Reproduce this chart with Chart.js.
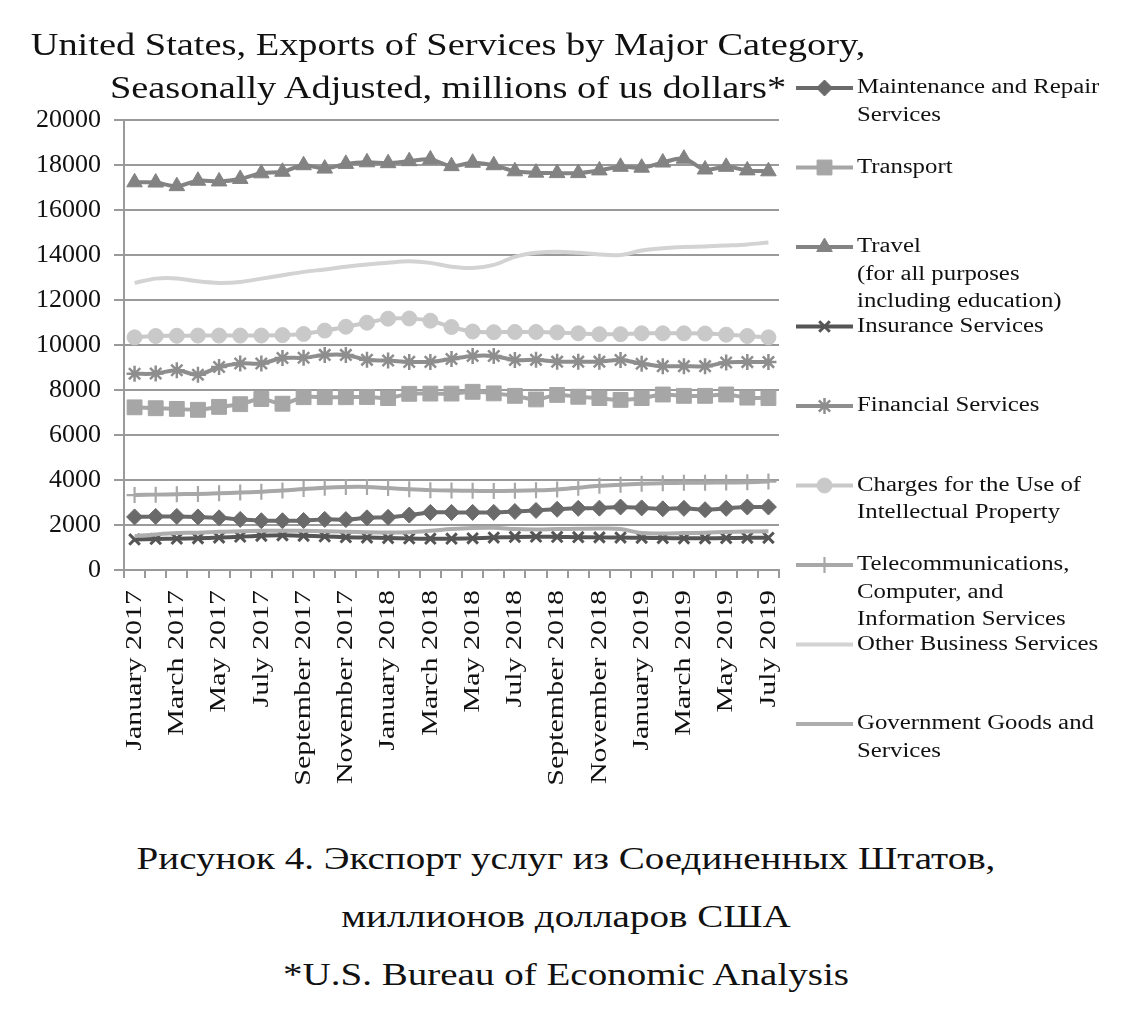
<!DOCTYPE html>
<html lang="en">
<head>
  <meta charset="UTF-8" />
  <title>US Exports of Services</title>
  <script src="https://cdn.jsdelivr.net/npm/chart.js"></script>
  <style>
    body {
      margin: 0;
      background: #ffffff;
      font-family: 'Liberation Serif', 'Times New Roman', serif;
      color: #111;
    }
    .page {
      position: relative;
      width: 1148px;
      height: 1018px;
      overflow: hidden;
    }
    .chart-box {
      position: absolute;
      left: 0;
      top: 0;
      width: 1148px;
      height: 800px;
    }
    .title {
      position: absolute;
      left: 0;
      top: 23px;
      width: 896px;
      text-align: center;
      font-size: 32px;
      line-height: 43px;
      transform: scaleX(1.2);
      transform-origin: 448px 0;
    }
    .caption {
      position: absolute;
      left: 0;
      top: 829px;
      width: 1132px;
      text-align: center;
      font-size: 32px;
      line-height: 58px;
      transform: scaleX(1.22);
      transform-origin: 566px 0;
    }
  </style>
</head>
<body>
  <div class="page">
    <div class="chart-box"><canvas id="chart" width="1148" height="800"></canvas></div>
    <div class="title">United States, Exports of Services by Major Category,<br>Seasonally Adjusted, millions of us dollars*</div>
    <div class="caption">Рисунок 4. Экспорт услуг из Соединенных Штатов,<br>миллионов долларов США<br>*U.S. Bureau of Economic Analysis</div>
  </div>

  <script>
    // months Jan 2017 .. Jul 2019
    const months = [
      'January 2017', 'February 2017', 'March 2017', 'April 2017', 'May 2017', 'June 2017',
      'July 2017', 'August 2017', 'September 2017', 'October 2017', 'November 2017', 'December 2017',
      'January 2018', 'February 2018', 'March 2018', 'April 2018', 'May 2018', 'June 2018',
      'July 2018', 'August 2018', 'September 2018', 'October 2018', 'November 2018', 'December 2018',
      'January 2019', 'February 2019', 'March 2019', 'April 2019', 'May 2019', 'June 2019', 'July 2019'
    ];

    const yTicks = [0, 2000, 4000, 6000, 8000, 10000, 12000, 14000, 16000, 18000, 20000];

    const maintenance = [2360, 2380, 2380, 2360, 2320, 2250, 2190, 2190, 2200, 2250, 2240, 2320,
      2340, 2440, 2560, 2560, 2560, 2560, 2600, 2650, 2700, 2740, 2750, 2800, 2760, 2720, 2740,
      2680, 2740, 2800, 2800];
    const transport = [7230, 7190, 7160, 7120, 7250, 7370, 7600, 7390, 7680, 7680, 7680, 7690,
      7640, 7830, 7840, 7840, 7920, 7850, 7740, 7580, 7780, 7700, 7640, 7560, 7640, 7800,
      7740, 7740, 7800, 7660, 7640];
    const travel = [17230, 17220, 17060, 17300, 17270, 17380, 17630, 17700, 17990, 17840, 18050, 18120,
      18080, 18170, 18250, 17950, 18100, 17990, 17720, 17660, 17640, 17640, 17760, 17920, 17880,
      18110, 18280, 17800, 17920, 17760, 17720];
    const insurance = [1360, 1380, 1390, 1410, 1440, 1480, 1520, 1540, 1520, 1490, 1460, 1440,
      1420, 1400, 1390, 1390, 1410, 1440, 1470, 1480, 1470, 1460, 1450, 1440, 1430, 1420,
      1410, 1410, 1420, 1430, 1430];
    const financial = [8720, 8730, 8880, 8680, 9020, 9180, 9180, 9420, 9430, 9560, 9560, 9340,
      9310, 9250, 9250, 9380, 9510, 9510, 9330, 9340, 9260, 9260, 9260, 9330, 9170, 9060,
      9060, 9060, 9220, 9240, 9240];
    const intellectual = [10340, 10400, 10410, 10420, 10420, 10420, 10420, 10440, 10490, 10640, 10810, 10990,
      11170, 11180, 11080, 10800, 10600, 10570, 10580, 10580, 10560, 10520, 10480, 10480,
      10520, 10520, 10520, 10510, 10460, 10400, 10340];
    const telecom = [3330, 3350, 3370, 3380, 3410, 3440, 3480, 3530, 3600, 3660, 3690, 3690,
      3640, 3590, 3550, 3530, 3520, 3510, 3520, 3540, 3580, 3660, 3740, 3790, 3830, 3860,
      3880, 3880, 3890, 3900, 3930];
    const otherBusiness = [12760, 12950, 12960, 12830, 12760, 12800, 12950, 13100, 13250, 13360, 13480, 13580,
      13660, 13720, 13650, 13480, 13420, 13560, 13920, 14100, 14150, 14100, 14020, 14000,
      14200, 14300, 14360, 14380, 14420, 14470, 14560];
    const government = [1500, 1580, 1640, 1660, 1700, 1720, 1740, 1750, 1740, 1720, 1700, 1680,
      1670, 1680, 1740, 1820, 1870, 1880, 1820, 1800, 1820, 1830, 1840, 1820, 1640, 1620,
      1640, 1660, 1690, 1710, 1720];

    const seriesNames = [
      'Maintenance and Repair\nServices',
      'Transport',
      'Travel\n(for all purposes\nincluding education)',
      'Insurance Services',
      'Financial Services',
      'Charges for the Use of\nIntellectual Property',
      'Telecommunications,\nComputer, and\nInformation Services',
      'Other Business Services',
      'Government Goods and\nServices'
    ];
    const seriesData = [maintenance, transport, travel, insurance, financial, intellectual,
      telecom, otherBusiness, government];
    const seriesColors = ['#6a6a6a', '#a6a6a6', '#838383', '#555555', '#8e8e8e', '#c9c9c9',
      '#a8a8a8', '#d3d3d3', '#adadad'];
    const seriesMarkers = ['rectRot', 'rect', 'triangle', 'crossRot', 'star', 'circle', 'cross', false, false];
    const markerSizes = [8, 10.5, 9, 7.5, 8, 7.5, 8, 0, 0];
    const markerBorders = [1, 1, 1, 3, 2.5, 1, 2.2, 0, 0];

    const serif = "'Liberation Serif', 'Times New Roman', serif";
    const gridGray = '#9a9a9a';

    const datasets = seriesNames.map((name, i) => ({
      label: name,
      data: seriesData[i],
      borderColor: seriesColors[i],
      backgroundColor: seriesColors[i],
      borderWidth: 4,
      tension: 0.35,
      pointStyle: seriesMarkers[i],
      pointRadius: markerSizes[i],
      pointBorderWidth: markerBorders[i],
      pointBackgroundColor: seriesColors[i],
      pointBorderColor: seriesColors[i],
      order: seriesNames.length - i
    }));

    // legend drawn by hand, excel style: sample line + marker, wrapped text
    const sideLegend = {
      id: 'sideLegend',
      afterDraw(chart) {
        const ctx = chart.ctx;
        const x0 = 796, x1 = 853, tx = 857;
        chart.data.datasets.forEach((ds, i) => {
          const y = 88 + i * 79.5;
          ctx.save();
          ctx.strokeStyle = ds.borderColor;
          ctx.lineWidth = 4;
          ctx.beginPath();
          ctx.moveTo(x0, y);
          ctx.lineTo(x1, y);
          ctx.stroke();
          if (ds.pointStyle && Chart.helpers && Chart.helpers.drawPoint) {
            ctx.fillStyle = ds.pointBackgroundColor;
            ctx.strokeStyle = ds.pointBorderColor;
            ctx.lineWidth = ds.pointBorderWidth;
            Chart.helpers.drawPoint(ctx, {
              pointStyle: ds.pointStyle,
              radius: ds.pointRadius,
              borderWidth: ds.pointBorderWidth,
              rotation: 0
            }, (x0 + x1) / 2, y);
          }
          ctx.fillStyle = '#111';
          ctx.font = '20px ' + serif;
          ctx.textBaseline = 'middle';
          ds.label.split('\n').forEach((line, k) => {
            ctx.save();
            ctx.translate(tx, y + k * 27.5);
            ctx.scale(1.24, 1);
            ctx.fillText(line, 0, 0);
            ctx.restore();
          });
          ctx.restore();
        });
      }
    };

    // month labels: every second month, rotated, a bit narrower than tall
    const monthLabels = {
      id: 'monthLabels',
      afterDraw(chart) {
        const ctx = chart.ctx;
        const xs = chart.scales.x;
        ctx.save();
        ctx.fillStyle = '#111';
        ctx.font = '30px ' + serif;
        ctx.textAlign = 'right';
        ctx.textBaseline = 'middle';
        months.forEach((m, i) => {
          if (i % 2) return;
          ctx.save();
          ctx.translate(xs.getPixelForValue(i), xs.top + 20);
          ctx.rotate(-Math.PI / 2);
          ctx.scale(1, 0.8);
          ctx.fillText(m, 0, 0);
          ctx.restore();
        });
        ctx.restore();
      }
    };

    new Chart(document.getElementById('chart'), {
      type: 'line',
      data: { labels: months, datasets: datasets },
      options: {
        responsive: false,
        animation: false,
        layout: { padding: { left: 0, right: 369, top: 120, bottom: 0 } },
        plugins: {
          legend: { display: false },
          title: { display: false },
          tooltip: { enabled: false }
        },
        scales: {
          x: {
            offset: true,
            afterFit: s => { s.height = 230; },
            grid: {
              offset: true,
              drawOnChartArea: false,
              drawTicks: true,
              tickLength: 8,
              color: gridGray,
              lineWidth: 2
            },
            border: { color: gridGray, width: 2 },
            ticks: { display: false, autoSkip: false }
          },
          y: {
            min: yTicks[0],
            max: yTicks[yTicks.length - 1],
            afterFit: s => { s.width = 124; },
            afterBuildTicks: s => { s.ticks = yTicks.map(v => ({ value: v })); },
            grid: {
              color: gridGray,
              lineWidth: 2,
              tickLength: 10
            },
            border: { color: gridGray, width: 2 },
            ticks: {
              padding: 13,
              color: '#111',
              font: { family: serif, size: 26 },
              callback: v => String(v)
            }
          }
        }
      },
      plugins: [sideLegend, monthLabels]
    });
  </script>
</body>
</html>
